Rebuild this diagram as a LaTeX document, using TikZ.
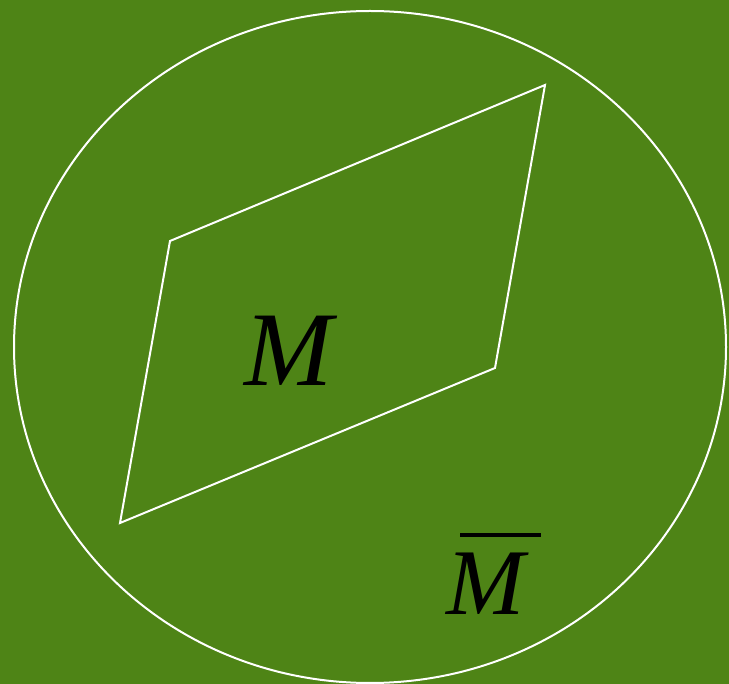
\documentclass[tikz,border=0pt]{standalone}
\usepackage{fontspec}
\setmainfont{Liberation Serif}
\definecolor{bg}{HTML}{4E8416}
\tikzset{outline/.style={draw=white, line width=2pt, line join=miter},
  lbl/.style={inner sep=0pt, text=black}}
\begin{document}
\begin{tikzpicture}[x=1pt,y=-1pt]
\fill[bg] (0,0) rectangle (729,684);
\useasboundingbox (0,0) rectangle (729,684);
\draw[outline] (370,347) ellipse [x radius=356, y radius=336];
\coordinate (a) at (170,241);
\coordinate (b) at (545,85);
\coordinate (c) at (495,368);
\coordinate (d) at (120,523);
\draw[outline] (a) -- (b) -- (c) -- (d) -- cycle;
\node[lbl, anchor=base] (m) at (289,386) {\fontsize{106}{106}\selectfont\itshape M};
\node[lbl, anchor=base] (mb) at (486,615) {\fontsize{94}{94}\selectfont\itshape M};
\coordinate (bl) at (460,535);
\coordinate (br) at (541,535);
\draw[line width=4pt, black] (bl) -- (br);
\end{tikzpicture}
\end{document}
